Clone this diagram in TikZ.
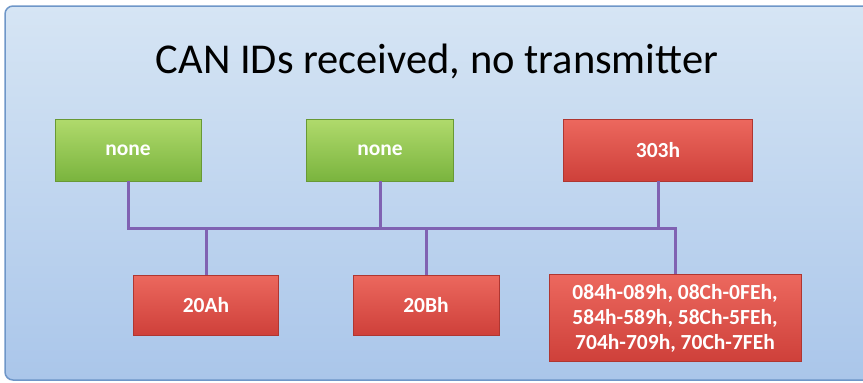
\documentclass[tikz,border=0pt]{standalone}
\usepackage{fontspec}
\setmainfont{Carlito}
\usetikzlibrary{positioning}

\definecolor{panelTop}{RGB}{214,229,244}
\definecolor{panelBot}{RGB}{170,198,234}
\definecolor{panelLine}{RGB}{110,150,200}
\definecolor{greenTop}{RGB}{176,218,108}
\definecolor{greenBot}{RGB}{122,180,62}
\definecolor{redTop}{RGB}{236,104,94}
\definecolor{redBot}{RGB}{206,64,58}
\definecolor{busColor}{RGB}{128,98,178}

\tikzset{
  canbox/.style={rectangle,draw=#1Bot!85!black,very thin,top color=#1Top,bottom color=#1Bot,
    text=white,font=\fontsize{21.5}{25}\selectfont\bfseries,align=center,inner sep=0pt},
  busline/.style={busColor,line width=3pt}
}

\begin{document}
\begin{tikzpicture}[x=1pt,y=-1pt]
\useasboundingbox (0,0) rectangle (863,383);
\draw[panelLine,line width=1.5pt,rounded corners=8pt,top color=panelTop,bottom color=panelBot] (5,6) rectangle (875,380);

\node[font=\fontsize{42.5}{46}\selectfont,text=black,anchor=base] (title) at (437,73) {CAN IDs received, no transmitter};

\node[canbox=green,minimum width=146,minimum height=62] (rxA) at (128,150) {none};
\node[canbox=green,minimum width=147,minimum height=62] (rxB) at (380,150) {none};
\node[canbox=red,minimum width=189,minimum height=62] (rxC) at (658,150) {303h};

\node[canbox=red,minimum width=145,minimum height=60] (idA) at (206,305) {20Ah};
\node[canbox=red,minimum width=146,minimum height=60] (idB) at (426,305) {20Bh};
\node[canbox=red,minimum width=252,minimum height=87] (idC) at (675,318) {084h-089h, 08Ch-0FEh,\\584h-589h, 58Ch-5FEh,\\704h-709h, 70Ch-7FEh};

\coordinate (busL) at (128,228);
\coordinate (busR) at (675,228);

\draw[busline] (rxA.south) |- (busR) -- (idC.north);
\draw[busline] (rxB.south) -- (rxB.south |- busL);
\draw[busline] (rxC.south) -- (rxC.south |- busL);
\draw[busline] (idA.north) -- (idA.north |- busL);
\draw[busline] (idB.north) -- (idB.north |- busL);

\end{tikzpicture}
\end{document}
